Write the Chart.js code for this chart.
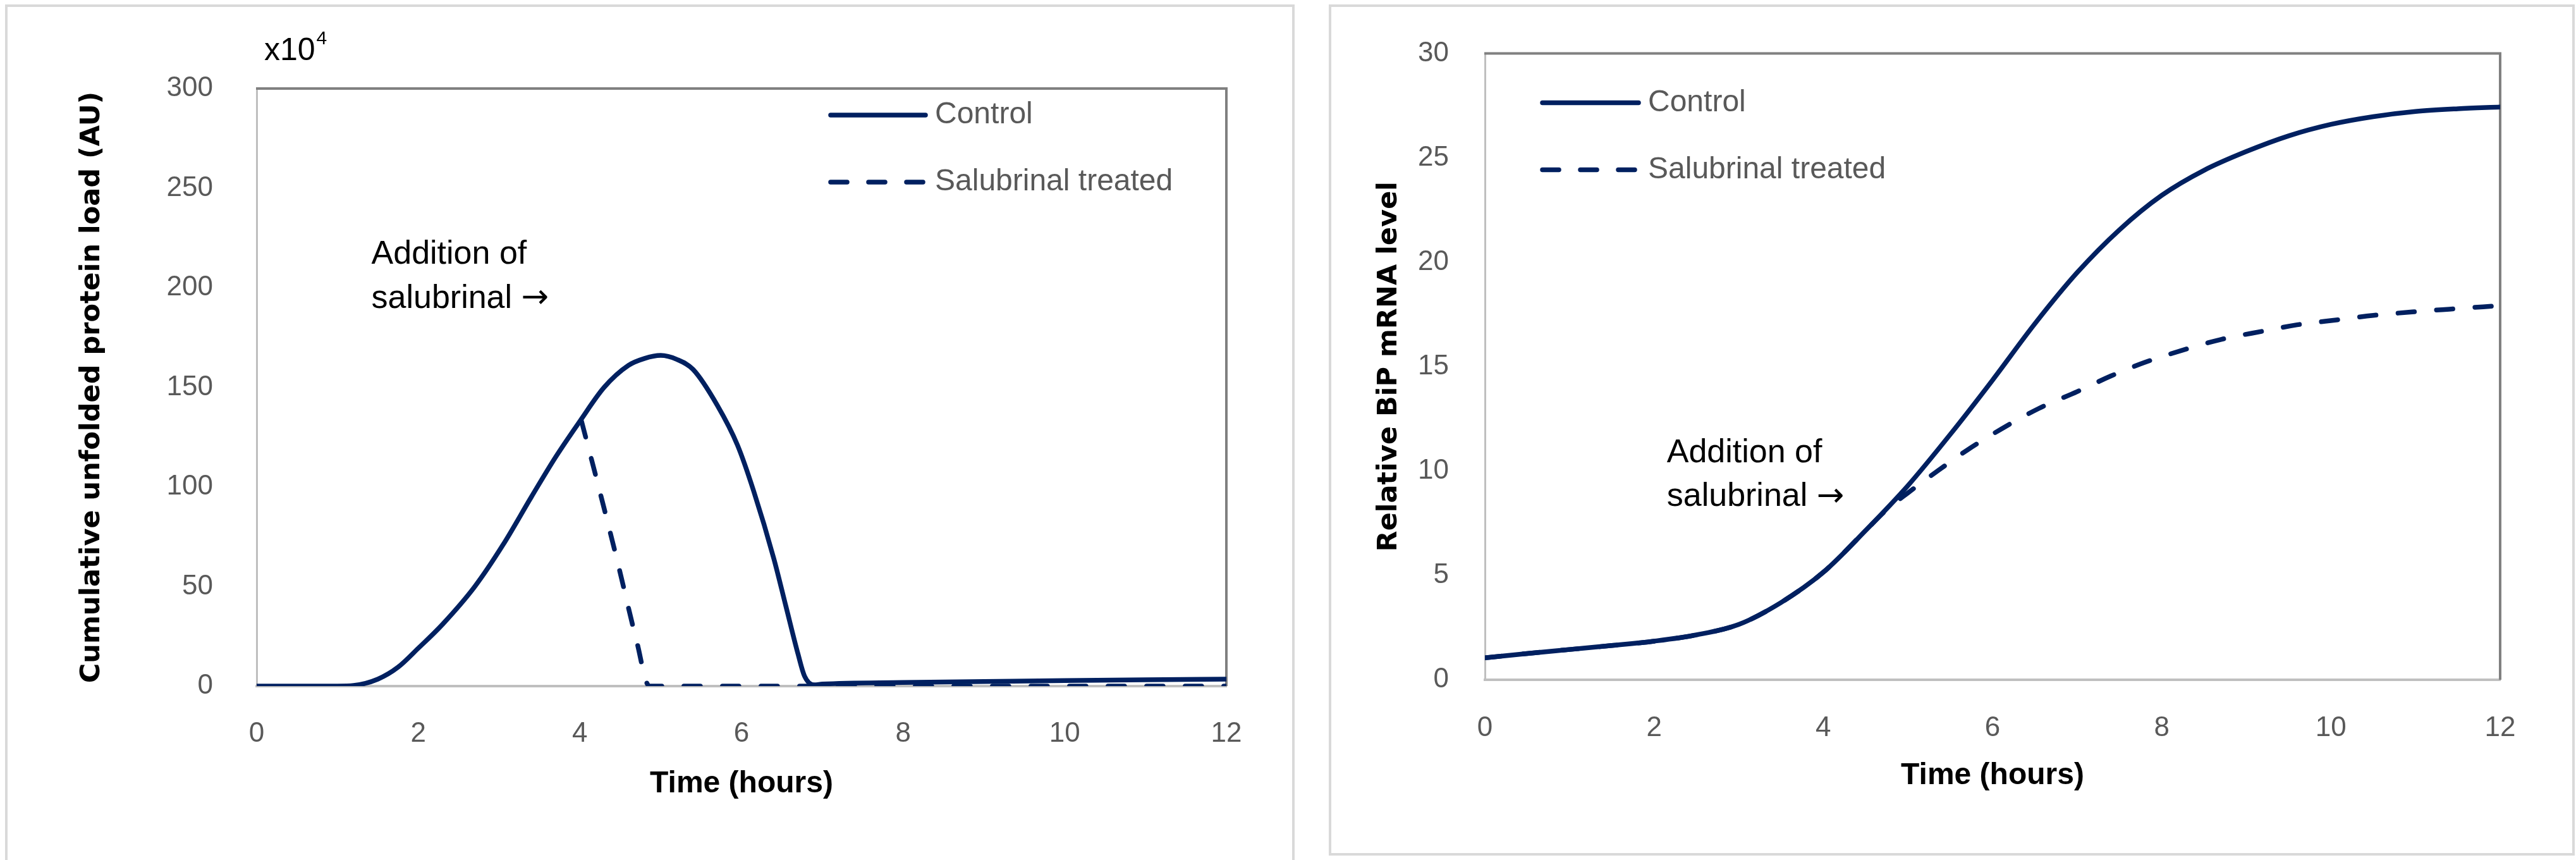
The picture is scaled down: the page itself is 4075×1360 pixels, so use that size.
<!DOCTYPE html>
<html>
<head>
<meta charset="utf-8">
<script src="https://cdn.jsdelivr.net/npm/chart.js@4.4.0/dist/chart.umd.min.js"></script>
<style>
  body { margin: 0; background: #fff; width: 4075px; height: 1360px; overflow: hidden; position: relative; }
  .panel { position: absolute; box-sizing: border-box; border: 4px solid #d9d9d9; }
  canvas { position: absolute; }
</style>
</head>
<body>
<div class="panel" style="left:8px;top:7px;width:2040px;height:1400px"></div>
<div class="panel" style="left:2102px;top:7px;width:1971px;height:1346px"></div>
<canvas id="loadChart" width="2036" height="1351" style="left:10px;top:9px"></canvas>
<canvas id="bipChart" width="1968" height="1341" style="left:2103px;top:9px"></canvas>
<script>
// left chart: unfolded protein load (x10^4)
const loadCtrlT = [0, 0.5, 1.0, 1.2, 1.5, 1.75, 2.0, 2.3, 2.7, 3.05, 3.4, 3.7, 4.0, 4.3, 4.6, 4.8, 5.0, 5.2, 5.4, 5.7, 5.95, 6.15, 6.4, 6.55, 6.7, 6.78, 6.9, 7.0, 8, 9, 10, 11, 12];
const loadCtrl  = [0, 0, 0, 0.3, 3.5, 9.5, 19, 31, 50, 71, 95, 115, 133, 150, 161, 164.5, 166, 164, 159, 141, 121, 98, 64, 40, 16, 5, 0.6, 1.0, 1.8, 2.3, 2.8, 3.2, 3.5];
// salubrinal added at ~4 h
const loadSalT  = [4.02, 4.2, 4.45, 4.7, 4.86, 5, 6, 7, 8, 9, 10, 11, 12];
const loadSal   = [133, 105, 65, 23, 0, 0, 0, 0, 0, 0, 0, 0, 0];

// right chart: relative BiP mRNA
const bipCtrlT = [0, 0.5, 1, 1.5, 2, 2.5, 3, 3.5, 4, 4.5, 5, 5.5, 6, 6.5, 7, 7.5, 8, 8.5, 9, 9.5, 10, 10.5, 11, 11.5, 12];
const bipCtrl  = [1.05, 1.26, 1.45, 1.64, 1.85, 2.15, 2.65, 3.7, 5.15, 7.15, 9.3, 11.75, 14.35, 17.05, 19.5, 21.55, 23.2, 24.4, 25.3, 26.05, 26.6, 26.97, 27.22, 27.35, 27.43];
const bipSalT  = [0, 0.5, 1, 1.5, 2, 2.5, 3, 3.5, 4, 4.5, 4.75, 5.0, 5.35, 5.7, 6.1, 6.55, 7.0, 7.4, 7.8, 8.3, 8.7, 9.2, 9.6, 10.1, 10.5, 11.0, 11.4, 12];
const bipSal   = [1.05, 1.26, 1.45, 1.64, 1.85, 2.15, 2.65, 3.7, 5.15, 7.15, 8.15, 8.95, 10.0, 11.0, 12.0, 13.0, 13.8, 14.55, 15.2, 15.85, 16.3, 16.7, 17.0, 17.25, 17.45, 17.63, 17.75, 17.92];

const seriesNames = ['Control', 'Salubrinal treated'];
const xTitle = 'Time (hours)';
const annotationLines = ['Addition of', 'salubrinal '];

const navy = '#002060';
const tickFont = { family: 'Liberation Sans', size: 44 };

const toPts = (ts, vs) => ts.map((t, i) => ({ x: t, y: vs[i] }));

function lineSet(label, pts, dashed) {
  return {
    label: label,
    data: pts,
    borderColor: navy,
    borderWidth: 7.5,
    borderDash: dashed ? [26, 35] : [],
    borderCapStyle: 'round',
    borderJoinStyle: 'round',
    pointRadius: 0,
    fill: false,
    cubicInterpolationMode: 'monotone'
  };
}

// frame, legend and text notes
const extrasPlugin = {
  id: 'extras',
  beforeDatasetsDraw(chart) {
    const { ctx, chartArea: a } = chart;
    ctx.save();
    ctx.strokeStyle = '#808080';
    ctx.lineWidth = 4;
    ctx.beginPath();
    ctx.moveTo(a.left - 1, a.top);
    ctx.lineTo(a.right, a.top);
    ctx.lineTo(a.right, a.bottom);
    ctx.stroke();
    ctx.restore();
  },
  afterDraw(chart, args, opts) {
    const { ctx, chartArea: a, scales } = chart;
    ctx.save();
    // legend
    const lg = opts.legend;
    seriesNames.forEach((name, i) => {
      const y = a.top + lg.y + i * lg.gap;
      ctx.strokeStyle = navy;
      ctx.lineWidth = 7.5;
      ctx.lineCap = 'round';
      ctx.setLineDash(i === 1 ? [26, 34] : []);
      ctx.beginPath();
      ctx.moveTo(a.left + lg.x0, y);
      ctx.lineTo(a.left + lg.x1, y);
      ctx.stroke();
      ctx.setLineDash([]);
      ctx.fillStyle = '#595959';
      ctx.font = '48px "Liberation Sans"';
      ctx.textAlign = 'left';
      ctx.textBaseline = 'middle';
      ctx.fillText(name, a.left + lg.tx, y);
    });
    // annotation, arrow after the second line
    const an = opts.note;
    ctx.fillStyle = '#000';
    ctx.font = '52px "Liberation Sans"';
    const nx = scales.x.getPixelForValue(an.t);
    annotationLines.forEach((txt, i) => {
      ctx.fillText(txt, nx, scales.y.getPixelForValue(an.v[i]));
    });
    const w2 = ctx.measureText(annotationLines[1]).width;
    ctx.font = '52px "DejaVu Sans"';
    ctx.fillText('\u2192', nx + w2, scales.y.getPixelForValue(an.v[1]));
    // unit label
    if (opts.unit) {
      ctx.textBaseline = 'alphabetic';
      ctx.font = '50px "Liberation Sans"';
      const ux = a.left + 12, uy = a.top - 45;
      ctx.fillText('x10', ux, uy);
      const w = ctx.measureText('x10').width;
      ctx.font = '30px "Liberation Sans"';
      ctx.fillText('4', ux + w + 2, uy - 25);
    }
    ctx.restore();
  }
};

function makeChart(id, cfg) {
  return new Chart(document.getElementById(id), {
    type: 'line',
    data: { datasets: [lineSet(seriesNames[0], cfg.ctrl, false), lineSet(seriesNames[1], cfg.sal, true)] },
    options: {
      responsive: false,
      animation: false,
      devicePixelRatio: 1,
      layout: { padding: cfg.pad },
      plugins: {
        legend: { display: false },
        tooltip: { enabled: false },
        extras: { legend: cfg.legend, note: cfg.note, unit: cfg.unit }
      },
      scales: {
        x: {
          type: 'linear', min: 0, max: 12,
          grid: { display: false },
          border: { color: '#bfbfbf', width: 4 },
          ticks: { stepSize: 2, color: '#595959', font: tickFont, padding: cfg.xTickPad, maxRotation: 0 },
          title: { display: true, text: xTitle, color: '#000', font: { family: 'Liberation Sans', size: 48, weight: 'bold' }, padding: { top: 0, bottom: cfg.xTitlePad } },
          afterFit: s => { s.height = 275; }
        },
        y: {
          min: 0, max: cfg.yMax,
          grid: { display: false },
          border: { color: '#bfbfbf', width: 3 },
          ticks: { stepSize: cfg.yStep, color: '#595959', font: tickFont, padding: cfg.yTickPad },
          title: { display: true, text: cfg.yTitle, color: '#000', font: { family: 'DejaVu Sans', size: 43, weight: 'bold' }, padding: { top: cfg.yTitlePad, bottom: 0 } },
          afterFit: s => { s.width = cfg.yWidth; }
        }
      }
    },
    plugins: [extrasPlugin]
  });
}

makeChart('loadChart', {
  ctrl: toPts(loadCtrlT, loadCtrl),
  sal: toPts(loadSalT, loadSal),
  pad: { left: 0, right: 106, top: 131, bottom: 0 },
  yMax: 300, yStep: 50,
  yTitle: 'Cumulative unfolded protein load (AU)',
  yWidth: 396, yTickPad: 61, yTitlePad: 110,
  xTickPad: 41, xTitlePad: 91,
  legend: { x0: 908, x1: 1058, tx: 1073, y: 42, gap: 106 },
  note: { t: 1.42, v: [216.5, 194.5] },
  unit: true
});

makeChart('bipChart', {
  ctrl: toPts(bipCtrlT, bipCtrl),
  sal: toPts(bipSalT, bipSal),
  pad: { left: 0, right: 116, top: 67, bottom: 0 },
  yMax: 30, yStep: 5,
  yTitle: 'Relative BiP mRNA level',
  yWidth: 246, yTickPad: 49, yTitlePad: 69,
  xTickPad: 42, xTitlePad: 94,
  legend: { x0: 91, x1: 243, tx: 258, y: 78, gap: 106 },
  note: { t: 2.15, v: [10.85, 8.75] },
  unit: false
});
</script>
</body>
</html>
